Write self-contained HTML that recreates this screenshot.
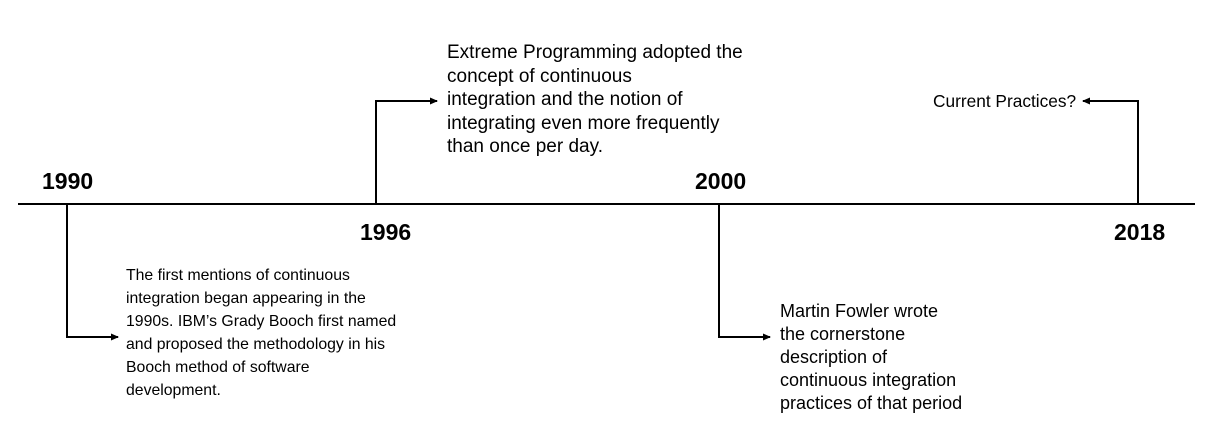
<!DOCTYPE html>
<html><head><style>
body{margin:0;width:1215px;height:438px;background:#fff;position:relative;overflow:hidden;font-family:"Liberation Sans",sans-serif;color:#000}
.y{position:absolute;font-weight:bold;font-size:23px;line-height:24px}
.t{position:absolute;font-size:15.8px;line-height:23px;white-space:nowrap}
.a{position:absolute;font-size:19px;line-height:23.5px;white-space:nowrap}
</style></head><body>
<svg width="1215" height="438" style="position:absolute;left:0;top:0">
<defs><marker id="m" markerWidth="8" markerHeight="8" refX="7" refY="4" orient="auto" markerUnits="userSpaceOnUse"><path d="M0,0.5 L8,4 L0,7.5z" fill="#000"/></marker></defs>
<line x1="18" y1="204" x2="1195" y2="204" stroke="#000" stroke-width="2"/>
<polyline points="67,204 67,337 118,337" fill="none" stroke="#000" stroke-width="2" marker-end="url(#m)"/>
<polyline points="376,204 376,101 437,101" fill="none" stroke="#000" stroke-width="2" marker-end="url(#m)"/>
<polyline points="719,204 719,337 770,337" fill="none" stroke="#000" stroke-width="2" marker-end="url(#m)"/>
<polyline points="1138,204 1138,101 1083,101" fill="none" stroke="#000" stroke-width="2" marker-end="url(#m)"/>
</svg>
<div class="y" style="left:42px;top:169px">1990</div>
<div class="y" style="left:360px;top:220px">1996</div>
<div class="y" style="left:695px;top:169px">2000</div>
<div class="y" style="left:1114px;top:220px">2018</div>
<div class="t" style="left:126px;top:264px">The first mentions of continuous<br>integration began appearing in the<br>1990s. IBM’s Grady Booch first named<br>and proposed the methodology in his<br>Booch method of software<br>development.</div>
<div class="a" style="left:447px;top:41px">Extreme Programming adopted the<br>concept of continuous<br>integration and the notion of<br>integrating even more frequently<br>than once per day.</div>
<div class="t" style="left:780px;top:300px;font-size:18px">Martin Fowler wrote<br>the cornerstone<br>description of<br>continuous integration<br>practices of that period</div>
<div class="t" style="left:933px;top:90px;font-size:17.3px">Current Practices?</div>
</body></html>
